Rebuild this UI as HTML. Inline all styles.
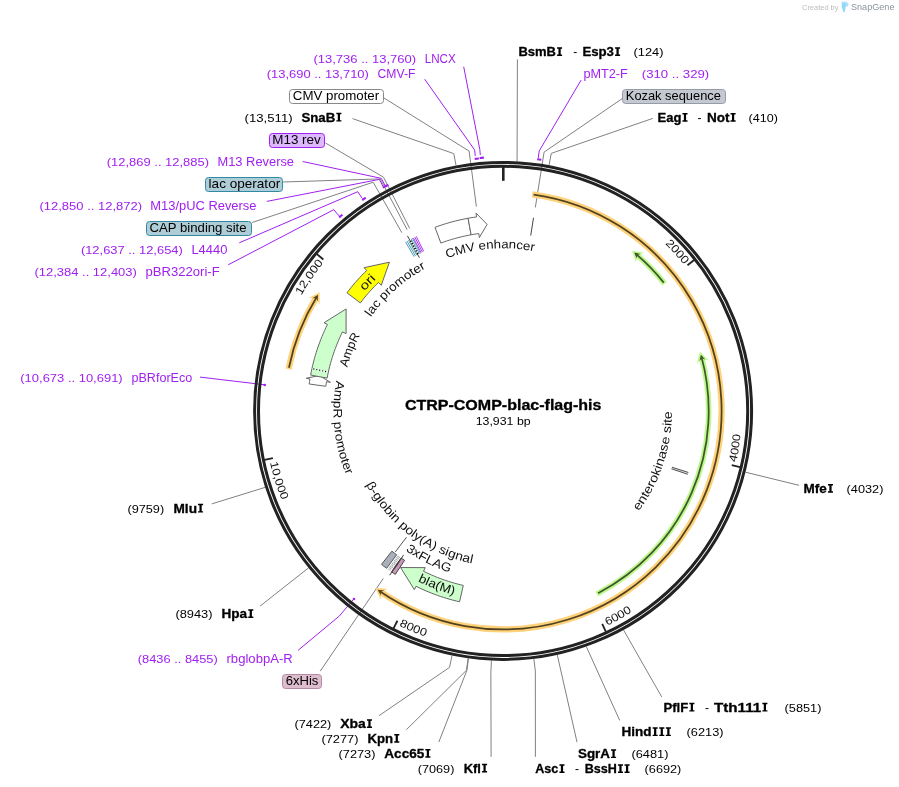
<!DOCTYPE html>
<html><head><meta charset="utf-8"><title>CTRP-COMP-blac-flag-his</title>
<style>html,body{margin:0;padding:0;background:#fff;}body{width:899px;height:787px;overflow:hidden;font-family:"Liberation Sans", sans-serif;}svg{display:block;will-change:transform;}text{white-space:pre;}</style>
</head><body>
<svg width="899" height="787" viewBox="0 0 899 787" font-family='"Liberation Sans", sans-serif'>
<polyline points="517.07,161.29 517.4,59.4" fill="none" stroke="#808080" stroke-width="1"/>
<polyline points="549.07,165.16 551.27,153.37 652.8,118.4" fill="none" stroke="#808080" stroke-width="1"/>
<polyline points="745.47,472.2 799,485.3" fill="none" stroke="#808080" stroke-width="1"/>
<polyline points="623.54,629.98 661.7,696.9" fill="none" stroke="#808080" stroke-width="1"/>
<polyline points="586.33,646.64 619.7,720.4" fill="none" stroke="#808080" stroke-width="1"/>
<polyline points="557.3,654.95 577,742.1" fill="none" stroke="#808080" stroke-width="1"/>
<polyline points="533.86,659 535.34,670.91 535.4,756.8" fill="none" stroke="#808080" stroke-width="1"/>
<polyline points="491.43,660.63 490.87,672.61 491.1,756.8" fill="none" stroke="#808080" stroke-width="1"/>
<polyline points="468.54,658.5 466.88,670.38 438.8,742.1" fill="none" stroke="#808080" stroke-width="1"/>
<polyline points="468.09,658.44 466.41,670.32 406.4,729.7" fill="none" stroke="#808080" stroke-width="1"/>
<polyline points="451.99,655.62 449.54,667.37 379,715.7" fill="none" stroke="#808080" stroke-width="1"/>
<polyline points="308.53,567.88 260.1,606.1" fill="none" stroke="#808080" stroke-width="1"/>
<polyline points="265.08,487.37 211.8,503.9" fill="none" stroke="#808080" stroke-width="1"/>
<polyline points="456.03,165.37 453.77,153.59 352.5,118.6" fill="none" stroke="#808080" stroke-width="1"/>
<polyline points="535.33,207.44 544.09,152.13 622.5,98.4" fill="none" stroke="#808080" stroke-width="1"/>
<polyline points="476.39,206.64 469.13,151.11 384,98" fill="none" stroke="#808080" stroke-width="1"/>
<polyline points="409.71,228.41 383.52,177.22 325.5,143" fill="none" stroke="#808080" stroke-width="1"/>
<polyline points="407.17,229.73 380.27,178.91 283.2,182" fill="none" stroke="#808080" stroke-width="1"/>
<polyline points="401.84,232.65 373.19,182.22 252.2,222.5" fill="none" stroke="#808080" stroke-width="1"/>
<polyline points="383.3,578.4 320.2,671.2" fill="none" stroke="#808080" stroke-width="1"/>
<polyline points="395.29,551.91 406.53,537.21" fill="none" stroke="#555" stroke-width="1"/>
<path d="M537.18,159.2A254,254 0 0 1 541.34,159.79" fill="none" stroke="#a020f0" stroke-width="2.1"/>
<polyline points="538.22,158.13 539.23,150.9 581.1,80.1" fill="none" stroke="#a020f0" stroke-width="1"/>
<path d="M474.71,158.89A253.6,253.6 0 0 1 478.89,158.46" fill="none" stroke="#a020f0" stroke-width="2.1"/>
<polyline points="475.27,155.91 474.62,149.95 424.7,79.2" fill="none" stroke="#a020f0" stroke-width="1"/>
<path d="M479.69,157.98A254,254 0 0 1 483.87,157.63" fill="none" stroke="#a020f0" stroke-width="2.1"/>
<polyline points="480.31,155.01 479.81,149.43 463.7,66.7" fill="none" stroke="#a020f0" stroke-width="1"/>
<path d="M384.65,186.66A253.6,253.6 0 0 1 388.38,184.73" fill="none" stroke="#a020f0" stroke-width="2.1"/>
<polyline points="384.88,185.19 381.31,178.36 302.7,161.5" fill="none" stroke="#a020f0" stroke-width="1"/>
<path d="M382.74,187.68A253.6,253.6 0 0 1 386.53,185.68" fill="none" stroke="#a020f0" stroke-width="2.1"/>
<polyline points="382.95,186.21 379.32,179.42 266.8,201.4" fill="none" stroke="#a020f0" stroke-width="1"/>
<path d="M362.25,200.01A253.6,253.6 0 0 1 365.76,197.71" fill="none" stroke="#a020f0" stroke-width="2.1"/>
<polyline points="362.32,198.52 357.79,191.69 239.3,242.8" fill="none" stroke="#a020f0" stroke-width="1"/>
<path d="M339.15,217.42A253.6,253.6 0 0 1 342.38,214.73" fill="none" stroke="#a020f0" stroke-width="2.1"/>
<polyline points="339.06,215.93 333.78,209.66 228.2,264.8" fill="none" stroke="#a020f0" stroke-width="1"/>
<circle cx="264.7" cy="385" r="1.3" fill="#a020f0"/>
<polyline points="264.73,384.79 200,377.1" fill="none" stroke="#a020f0" stroke-width="1"/>
<circle cx="354.02" cy="598.99" r="1.3" fill="#a020f0"/>
<polyline points="353.86,598.86 339.33,616.05 298.1,650.3" fill="none" stroke="#a020f0" stroke-width="1"/>
<circle cx="503.1" cy="410.9" r="248.5" fill="none" stroke="#222" stroke-width="3.0"/>
<circle cx="503.1" cy="410.9" r="244.6" fill="none" stroke="#222" stroke-width="3.0"/>
<line x1="503.3" y1="167" x2="503.3" y2="180.8" stroke="#222" stroke-width="2.6"/>
<line x1="694.15" y1="259.93" x2="687.48" y2="265.2" stroke="#222" stroke-width="1.8"/>
<path id="tk2000" d="M664.86,243.76A232.6,232.6 0 0 1 684.08,264.78" fill="none"/>
<text font-size="11.2" fill="#111"><textPath href="#tk2000" textLength="28.5" lengthAdjust="spacingAndGlyphs">2000</textPath></text>
<line x1="740" y1="467.19" x2="731.73" y2="465.23" stroke="#222" stroke-width="1.8"/>
<path id="tk4000" d="M736.17,462.43A238.7,238.7 0 0 0 740.65,434.3" fill="none"/>
<text font-size="11.2" fill="#111"><textPath href="#tk4000" textLength="28.5" lengthAdjust="spacingAndGlyphs">4000</textPath></text>
<line x1="605.82" y1="631.68" x2="602.23" y2="623.97" stroke="#222" stroke-width="1.8"/>
<path id="tk6000" d="M607.18,625.72A238.7,238.7 0 0 0 632.02,611.79" fill="none"/>
<text font-size="11.2" fill="#111"><textPath href="#tk6000" textLength="28.5" lengthAdjust="spacingAndGlyphs">6000</textPath></text>
<line x1="393.56" y1="628.37" x2="397.39" y2="620.78" stroke="#222" stroke-width="1.8"/>
<path id="tk8000" d="M399.09,625.75A238.7,238.7 0 0 0 425.42,636.61" fill="none"/>
<text font-size="11.2" fill="#111"><textPath href="#tk8000" textLength="28.5" lengthAdjust="spacingAndGlyphs">8000</textPath></text>
<line x1="264.56" y1="459.79" x2="272.89" y2="458.09" stroke="#222" stroke-width="1.8"/>
<path id="tk10000" d="M270.04,462.5A238.7,238.7 0 0 0 281.73,500.18" fill="none"/>
<text font-size="11.2" fill="#111"><textPath href="#tk10000" textLength="39.5" lengthAdjust="spacingAndGlyphs">10,000</textPath></text>
<line x1="316.84" y1="254.06" x2="323.34" y2="259.53" stroke="#222" stroke-width="1.8"/>
<path id="tk12000" d="M301.2,295.41A232.6,232.6 0 0 1 323.62,262.95" fill="none"/>
<text font-size="11.2" fill="#111"><textPath href="#tk12000" textLength="39.5" lengthAdjust="spacingAndGlyphs">12,000</textPath></text>
<path d="M532.19,194.34A218.5,218.5 0 1 1 379.58,591.14" fill="none" stroke="#fdd27a" stroke-width="6.2"/>
<path d="M375.29,588.12 L380.57,599.25 L381.32,592.32 L387.33,588.86 Z" fill="#fdd27a"/>
<path d="M533.67,194.55A218.5,218.5 0 1 1 379.38,591" fill="none" stroke="#54421f" stroke-width="1.75"/>
<path d="M377.73,589.86 L380.83,595.59 L380.82,591.98 L384.14,590.59 Z" fill="#54421f"/>
<path d="M288.61,369.21A218.5,218.5 0 0 1 316.84,296.66" fill="none" stroke="#fdd27a" stroke-width="6.2"/>
<path d="M319.64,292.22 L308.79,298.05 L315.76,298.45 L319.52,304.28 Z" fill="#fdd27a"/>
<path d="M288.91,367.74A218.5,218.5 0 0 1 316.98,296.45" fill="none" stroke="#54421f" stroke-width="1.75"/>
<path d="M318.03,294.75 L312.46,298.13 L316.06,297.94 L317.62,301.18 Z" fill="#54421f"/>
<path d="M664.67,283.76A205.6,205.6 0 0 0 635.98,254.01" fill="none" stroke="#bdf98c" stroke-width="5.6"/>
<path d="M631.93,250.67 L644.07,252.83 L637.57,255.38 L635.81,262.08 Z" fill="#bdf98c"/>
<path d="M663.74,282.58A205.6,205.6 0 0 0 635.79,253.85" fill="none" stroke="#42562e" stroke-width="1.75"/>
<path d="M634.25,252.56 L640.61,254.04 L637.12,254.98 L636.65,258.55 Z" fill="#42562e"/>
<path d="M596.76,593.93A205.6,205.6 0 0 0 701.47,356.87" fill="none" stroke="#bdf98c" stroke-width="5.6"/>
<path d="M700.03,351.82 L708.81,360.47 L702.01,358.89 L696.77,363.42 Z" fill="#bdf98c"/>
<path d="M598.09,593.24A205.6,205.6 0 0 0 701.41,356.62" fill="none" stroke="#42562e" stroke-width="1.75"/>
<path d="M700.87,354.7 L705.27,359.51 L701.86,358.31 L699.46,360.99 Z" fill="#42562e"/>
<path d="M435.01,227.32 L437.95,226.26 L440.9,225.24 L443.87,224.27 L446.85,223.35 L449.85,222.48 L452.86,221.66 L455.88,220.88 L458.92,220.15 L461.97,219.47 L465.02,218.84 L468.09,218.26 L471.09,234.78 L468.29,235.32 L465.49,235.89 L462.71,236.52 L459.93,237.18 L457.17,237.89 L454.42,238.65 L451.68,239.45 L448.95,240.29 L446.24,241.17 L443.54,242.1 L440.85,243.07 Z" fill="#fff" stroke="#666" stroke-width="1" stroke-linejoin="miter" />
<path d="M468.09,218.26 L470.9,217.77 L473.71,217.32 L476.53,216.91 L476.01,213.15 L487.11,224.38 L479.35,237.52 L478.81,233.56 L476.23,233.93 L473.66,234.34 L471.09,234.78 Z" fill="#fff" stroke="#666" stroke-width="1" stroke-linejoin="miter" />
<path d="M346.93,292.79 L348.96,290.16 L351.03,287.56 L353.15,285 L355.3,282.47 L357.5,279.98 L359.75,277.53 L362.03,275.12 L364.35,272.74 L366.72,270.41 L364.07,267.68 L389.4,262.19 L381.21,285.33 L378.42,282.46 L376.26,284.6 L374.13,286.77 L372.05,288.97 L370,291.22 L367.98,293.49 L366.01,295.8 L364.08,298.14 L362.19,300.52 L360.33,302.93 Z" fill="#ffff00" stroke="#666" stroke-width="1" stroke-linejoin="miter" />
<path d="M309.16,383.99 L309.53,381.45 L309.93,378.92 L306.18,378.3 L319.28,375.5 L330.45,382.32 L326.5,381.66 L326.14,383.98 L325.8,386.3 Z" fill="#fff" stroke="#666" stroke-width="1" stroke-linejoin="miter" />
<path d="M310.61,375.05 L311.25,371.77 L311.95,368.5 L312.7,365.24 L313.5,362 L314.37,358.77 L315.28,355.56 L316.26,352.36 L317.28,349.18 L318.36,346.01 L319.5,342.87 L320.69,339.75 L321.93,336.64 L323.22,333.56 L324.57,330.5 L325.97,327.46 L327.42,324.45 L324.01,322.78 L346.1,308.94 L346.08,333.64 L342.49,331.87 L341.17,334.62 L339.89,337.4 L338.66,340.2 L337.47,343.01 L336.34,345.85 L335.25,348.71 L334.21,351.58 L333.23,354.47 L332.29,357.38 L331.4,360.3 L330.56,363.24 L329.77,366.2 L329.03,369.16 L328.35,372.14 L327.71,375.13 L327.13,378.13 Z" fill="#ccffcc" stroke="#666" stroke-width="1" stroke-linejoin="miter" />
<line x1="327.56" y1="371.98" x2="312.72" y2="368.69" stroke="#fff" stroke-width="1.1"/>
<line x1="327.56" y1="371.98" x2="312.72" y2="368.69" stroke="#000" stroke-width="1.2" stroke-dasharray="1.1,1.9" stroke-dashoffset="-1.5"/>
<path d="M459.55,601.8 L456.34,601.03 L453.13,600.22 L449.94,599.35 L446.76,598.42 L443.61,597.44 L440.46,596.41 L437.34,595.33 L434.23,594.19 L431.15,593 L428.08,591.76 L425.04,590.47 L422.01,589.12 L419.02,587.73 L416.04,586.28 L414.35,589.68 L400.6,567.54 L425.29,567.65 L423.51,571.23 L426.23,572.55 L428.97,573.83 L431.73,575.06 L434.52,576.24 L437.32,577.38 L440.14,578.46 L442.98,579.5 L445.84,580.49 L448.71,581.44 L451.6,582.33 L454.5,583.18 L457.42,583.97 L460.35,584.72 L463.29,585.42 Z" fill="#ccffcc" stroke="#666" stroke-width="1" stroke-linejoin="miter" />
<path d="M386.63,568.3 L384.04,566.34 L381.48,564.35 L391.91,551.18 L394.26,553.01 L396.63,554.79 Z" fill="#a9b0bb" stroke="#555" stroke-width="1" stroke-linejoin="miter" />
<line x1="399.66" y1="556.99" x2="389.96" y2="570.7" stroke="#6a6a6a" stroke-width="0.85" stroke-dasharray="0.9,0.9"/>
<line x1="398.85" y1="556.41" x2="389.06" y2="570.07" stroke="#6a6a6a" stroke-width="0.85" stroke-dasharray="0.9,0.9"/>
<line x1="398.04" y1="555.82" x2="388.18" y2="569.43" stroke="#6a6a6a" stroke-width="0.85" stroke-dasharray="0.9,0.9"/>
<path d="M395.32,574.36 L393.47,573.13 L391.64,571.88 L401.2,558.06 L402.88,559.21 L404.56,560.34 Z" fill="#cc99bb" stroke="#444" stroke-width="1" stroke-linejoin="miter" />
<path d="M403.68,554.91 L397.2,565.27 L389.7,575.16 L396.13,564.53 Z" fill="#444" stroke="#444" stroke-width="0.6"/>
<line x1="671.98" y1="467.14" x2="688.39" y2="472.61" stroke="#555" stroke-width="1.05"/>
<line x1="671.45" y1="468.7" x2="687.82" y2="474.32" stroke="#555" stroke-width="1.05"/>
<line x1="530.71" y1="235.56" x2="533.51" y2="217.78" stroke="#444" stroke-width="1"/>
<line x1="414.1" y1="256.75" x2="405.5" y2="241.85" stroke="#3b94ad" stroke-width="0.9"/>
<line x1="415.45" y1="255.98" x2="406.98" y2="241.01" stroke="#3b94ad" stroke-width="0.9"/>
<line x1="416.8" y1="255.22" x2="408.47" y2="240.17" stroke="#3b94ad" stroke-width="0.9"/>
<line x1="419.26" y1="253.88" x2="411.16" y2="238.71" stroke="#3b94ad" stroke-width="0.85"/>
<line x1="420.36" y1="253.3" x2="412.36" y2="238.07" stroke="#3b94ad" stroke-width="0.85"/>
<line x1="419.43" y1="257.76" x2="407.45" y2="235.83" stroke="#444" stroke-width="1"/>
<line x1="417.69" y1="253.59" x2="410.53" y2="240.41" stroke="#fff" stroke-width="1.5"/>
<line x1="417.93" y1="254.03" x2="410.29" y2="239.97" stroke="#111" stroke-width="1.9" stroke-dasharray="1.3,1.5"/>
<line x1="421.09" y1="252.69" x2="413.41" y2="237.86" stroke="#a020f0" stroke-width="0.9"/>
<line x1="422.39" y1="252.02" x2="414.83" y2="237.13" stroke="#a020f0" stroke-width="0.9"/>
<line x1="423.7" y1="251.37" x2="416.26" y2="236.42" stroke="#a020f0" stroke-width="0.9"/>
<path id="c1" d="M446.95,258.3A162.6,162.6 0 0 1 534.13,251.29" fill="none"/>
<text font-size="12.3" fill="#111"><textPath href="#c1" textLength="88.54" lengthAdjust="spacingAndGlyphs">CMV enhancer</textPath></text>
<path id="c2" d="M370.72,317.17A162.2,162.2 0 0 1 425.95,268.22" fill="none"/>
<text font-size="12.3" fill="#111"><textPath href="#c2" textLength="74.45" lengthAdjust="spacingAndGlyphs">lac promoter</textPath></text>
<path id="c3" d="M364.57,291.32A183,183 0 0 1 376.21,279.04" fill="none"/>
<text font-size="12.3" fill="#111"><textPath href="#c3" textLength="16.93" lengthAdjust="spacingAndGlyphs">ori</textPath></text>
<path id="c4" d="M347.26,367.39A161.8,161.8 0 0 1 360.11,335.19" fill="none"/>
<text font-size="12.3" fill="#111"><textPath href="#c4" textLength="34.73" lengthAdjust="spacingAndGlyphs">AmpR</textPath></text>
<path id="c5" d="M336.23,380.58A169.6,169.6 0 0 0 346.07,474.98" fill="none"/>
<text font-size="12.3" fill="#111"><textPath href="#c5" textLength="96.2" lengthAdjust="spacingAndGlyphs">AmpR promoter</textPath></text>
<path id="c6" d="M365.97,484.43A155.6,155.6 0 0 0 472.08,563.38" fill="none"/>
<text font-size="12.3" fill="#111"><textPath href="#c6" textLength="136.6" lengthAdjust="spacingAndGlyphs">β-globin poly(A) signal</textPath></text>
<path id="c7" d="M405.42,550.4A170.3,170.3 0 0 0 449.63,572.59" fill="none"/>
<text font-size="12.3" fill="#111"><textPath href="#c7" textLength="49.64" lengthAdjust="spacingAndGlyphs">3xFLAG</textPath></text>
<path id="c8" d="M417.8,581.24A190.5,190.5 0 0 0 453.79,594.91" fill="none"/>
<text font-size="12.3" fill="#111"><textPath href="#c8" textLength="38.57" lengthAdjust="spacingAndGlyphs">bla(M)</textPath></text>
<path id="c9" d="M638.79,511.31A168.8,168.8 0 0 0 671.9,411.49" fill="none"/>
<text font-size="12.3" fill="#111"><textPath href="#c9" textLength="106.94" lengthAdjust="spacingAndGlyphs">enterokinase site</textPath></text>
<text x="313.4" y="62.7" font-size="11.2" fill="#a020f0" textLength="102.8" lengthAdjust="spacingAndGlyphs">(13,736 .. 13,760)</text>
<text x="424.7" y="62.7" font-size="12.1" fill="#a020f0" textLength="31" lengthAdjust="spacingAndGlyphs">LNCX</text>
<text x="266.7" y="78" font-size="11.2" fill="#a020f0" textLength="102.2" lengthAdjust="spacingAndGlyphs">(13,690 .. 13,710)</text>
<text x="377.5" y="78" font-size="12.1" fill="#a020f0" textLength="37.9" lengthAdjust="spacingAndGlyphs">CMV-F</text>
<rect x="289.5" y="89.5" width="94" height="14" rx="3" ry="3" fill="#fff" stroke="#888" stroke-width="1"/>
<text x="292.8" y="100" font-size="11.9" fill="#000" textLength="86.4" lengthAdjust="spacingAndGlyphs">CMV promoter</text>
<text x="244.5" y="121.6" font-size="11.2" fill="#000" textLength="48.1" lengthAdjust="spacingAndGlyphs">(13,511)</text>
<path d="M336.35,112.85 h5.05 v1.45 h-1.42 v5.85 h1.42 v1.45 h-5.05 v-1.45 h1.42 v-5.85 h-1.42 Z" fill="#000"/>
<text x="301.4" y="121.6" font-size="12.1" font-weight="bold" stroke="#000" stroke-width="0.3" stroke-linejoin="round" fill="#000" textLength="33.85" lengthAdjust="spacingAndGlyphs">SnaB</text>
<rect x="269.5" y="133.5" width="55" height="14" rx="3" ry="3" fill="#deb8ff" stroke="#a020f0" stroke-width="1"/>
<text x="272.2" y="144" font-size="11.9" fill="#000" textLength="48.6" lengthAdjust="spacingAndGlyphs">M13 rev</text>
<text x="106.8" y="166" font-size="11.2" fill="#a020f0" textLength="102.2" lengthAdjust="spacingAndGlyphs">(12,869 .. 12,885)</text>
<text x="217.5" y="166" font-size="12.1" fill="#a020f0" textLength="76.5" lengthAdjust="spacingAndGlyphs">M13 Reverse</text>
<rect x="205.5" y="177.5" width="77" height="14" rx="3" ry="3" fill="#afcdd6" stroke="#3189a3" stroke-width="1"/>
<text x="208.6" y="188" font-size="11.9" fill="#000" textLength="71.6" lengthAdjust="spacingAndGlyphs">lac operator</text>
<text x="39.5" y="210" font-size="11.2" fill="#a020f0" textLength="102.5" lengthAdjust="spacingAndGlyphs">(12,850 .. 12,872)</text>
<text x="150.3" y="210" font-size="12.1" fill="#a020f0" textLength="106.2" lengthAdjust="spacingAndGlyphs">M13/pUC Reverse</text>
<rect x="146.5" y="221.5" width="105" height="14" rx="3" ry="3" fill="#afcdd6" stroke="#3189a3" stroke-width="1"/>
<text x="149.5" y="232" font-size="11.9" fill="#000" textLength="97.1" lengthAdjust="spacingAndGlyphs">CAP binding site</text>
<text x="80.9" y="254" font-size="11.2" fill="#a020f0" textLength="101.9" lengthAdjust="spacingAndGlyphs">(12,637 .. 12,654)</text>
<text x="191.4" y="254" font-size="12.1" fill="#a020f0" textLength="36" lengthAdjust="spacingAndGlyphs">L4440</text>
<text x="34.4" y="276" font-size="11.2" fill="#a020f0" textLength="102.5" lengthAdjust="spacingAndGlyphs">(12,384 .. 12,403)</text>
<text x="145.5" y="276" font-size="12.1" fill="#a020f0" textLength="74.2" lengthAdjust="spacingAndGlyphs">pBR322ori-F</text>
<text x="20.3" y="382.4" font-size="11.2" fill="#a020f0" textLength="102.4" lengthAdjust="spacingAndGlyphs">(10,673 .. 10,691)</text>
<text x="131.5" y="382.4" font-size="12.1" fill="#a020f0" textLength="60.7" lengthAdjust="spacingAndGlyphs">pBRforEco</text>
<text x="127.4" y="512.6" font-size="11.2" fill="#000" textLength="36.8" lengthAdjust="spacingAndGlyphs">(9759)</text>
<path d="M198.05,503.85 h5.05 v1.45 h-1.42 v5.85 h1.42 v1.45 h-5.05 v-1.45 h1.42 v-5.85 h-1.42 Z" fill="#000"/>
<text x="173.5" y="512.6" font-size="12.1" font-weight="bold" stroke="#000" stroke-width="0.3" stroke-linejoin="round" fill="#000" textLength="23.45" lengthAdjust="spacingAndGlyphs">Mlu</text>
<text x="175.4" y="618" font-size="11.2" fill="#000" textLength="37.1" lengthAdjust="spacingAndGlyphs">(8943)</text>
<path d="M248.25,609.25 h5.05 v1.45 h-1.42 v5.85 h1.42 v1.45 h-5.05 v-1.45 h1.42 v-5.85 h-1.42 Z" fill="#000"/>
<text x="221.5" y="618" font-size="12.1" font-weight="bold" stroke="#000" stroke-width="0.3" stroke-linejoin="round" fill="#000" textLength="25.65" lengthAdjust="spacingAndGlyphs">Hpa</text>
<text x="137.8" y="662.8" font-size="11.2" fill="#a020f0" textLength="80" lengthAdjust="spacingAndGlyphs">(8436 .. 8455)</text>
<text x="226.5" y="662.8" font-size="12.1" fill="#a020f0" textLength="66.3" lengthAdjust="spacingAndGlyphs">rbglobpA-R</text>
<rect x="282.5" y="674.5" width="39" height="14" rx="3" ry="3" fill="#dcbccd" stroke="#b58aa3" stroke-width="1"/>
<text x="285.7" y="685" font-size="11.9" fill="#000" textLength="32.7" lengthAdjust="spacingAndGlyphs">6xHis</text>
<text x="294.5" y="728" font-size="11.2" fill="#000" textLength="36.8" lengthAdjust="spacingAndGlyphs">(7422)</text>
<path d="M366.95,719.25 h5.05 v1.45 h-1.42 v5.85 h1.42 v1.45 h-5.05 v-1.45 h1.42 v-5.85 h-1.42 Z" fill="#000"/>
<text x="340.2" y="728" font-size="12.1" font-weight="bold" stroke="#000" stroke-width="0.3" stroke-linejoin="round" fill="#000" textLength="25.65" lengthAdjust="spacingAndGlyphs">Xba</text>
<text x="321.4" y="742.8" font-size="11.2" fill="#000" textLength="37.1" lengthAdjust="spacingAndGlyphs">(7277)</text>
<path d="M394.25,734.05 h5.05 v1.45 h-1.42 v5.85 h1.42 v1.45 h-5.05 v-1.45 h1.42 v-5.85 h-1.42 Z" fill="#000"/>
<text x="367.5" y="742.8" font-size="12.1" font-weight="bold" stroke="#000" stroke-width="0.3" stroke-linejoin="round" fill="#000" textLength="25.65" lengthAdjust="spacingAndGlyphs">Kpn</text>
<text x="338.5" y="757.7" font-size="11.2" fill="#000" textLength="37" lengthAdjust="spacingAndGlyphs">(7273)</text>
<path d="M425.35,748.95 h5.05 v1.45 h-1.42 v5.85 h1.42 v1.45 h-5.05 v-1.45 h1.42 v-5.85 h-1.42 Z" fill="#000"/>
<text x="384.3" y="757.7" font-size="12.1" font-weight="bold" stroke="#000" stroke-width="0.3" stroke-linejoin="round" fill="#000" textLength="39.95" lengthAdjust="spacingAndGlyphs">Acc65</text>
<text x="417.7" y="772.5" font-size="11.2" fill="#000" textLength="36.7" lengthAdjust="spacingAndGlyphs">(7069)</text>
<path d="M482.05,763.75 h5.05 v1.45 h-1.42 v5.85 h1.42 v1.45 h-5.05 v-1.45 h1.42 v-5.85 h-1.42 Z" fill="#000"/>
<text x="463.7" y="772.5" font-size="12.1" font-weight="bold" stroke="#000" stroke-width="0.3" stroke-linejoin="round" fill="#000" textLength="17.25" lengthAdjust="spacingAndGlyphs">Kfl</text>
<path d="M559.45,764.25 h5.05 v1.45 h-1.42 v5.85 h1.42 v1.45 h-5.05 v-1.45 h1.42 v-5.85 h-1.42 Z" fill="#000"/>
<text x="535.3" y="773" font-size="12.1" font-weight="bold" stroke="#000" stroke-width="0.3" stroke-linejoin="round" fill="#000" textLength="23.05" lengthAdjust="spacingAndGlyphs">Asc</text>
<text x="575" y="773" font-size="12.1" fill="#000" textLength="4" lengthAdjust="spacingAndGlyphs">-</text>
<path d="M617.95,764.25 h5.05 v1.45 h-1.42 v5.85 h1.42 v1.45 h-5.05 v-1.45 h1.42 v-5.85 h-1.42 Z" fill="#000"/>
<path d="M624.55,764.25 h5.05 v1.45 h-1.42 v5.85 h1.42 v1.45 h-5.05 v-1.45 h1.42 v-5.85 h-1.42 Z" fill="#000"/>
<text x="584.8" y="773" font-size="12.1" font-weight="bold" stroke="#000" stroke-width="0.3" stroke-linejoin="round" fill="#000" textLength="32.05" lengthAdjust="spacingAndGlyphs">BssH</text>
<text x="644.6" y="773" font-size="11.2" fill="#000" textLength="36.7" lengthAdjust="spacingAndGlyphs">(6692)</text>
<path d="M611.05,749.35 h5.05 v1.45 h-1.42 v5.85 h1.42 v1.45 h-5.05 v-1.45 h1.42 v-5.85 h-1.42 Z" fill="#000"/>
<text x="578" y="758.1" font-size="12.1" font-weight="bold" stroke="#000" stroke-width="0.3" stroke-linejoin="round" fill="#000" textLength="31.95" lengthAdjust="spacingAndGlyphs">SgrA</text>
<text x="631.4" y="758.1" font-size="11.2" fill="#000" textLength="37.1" lengthAdjust="spacingAndGlyphs">(6481)</text>
<path d="M652.65,727.35 h5.05 v1.45 h-1.42 v5.85 h1.42 v1.45 h-5.05 v-1.45 h1.42 v-5.85 h-1.42 Z" fill="#000"/>
<path d="M659.25,727.35 h5.05 v1.45 h-1.42 v5.85 h1.42 v1.45 h-5.05 v-1.45 h1.42 v-5.85 h-1.42 Z" fill="#000"/>
<path d="M665.85,727.35 h5.05 v1.45 h-1.42 v5.85 h1.42 v1.45 h-5.05 v-1.45 h1.42 v-5.85 h-1.42 Z" fill="#000"/>
<text x="621.5" y="736.1" font-size="12.1" font-weight="bold" stroke="#000" stroke-width="0.3" stroke-linejoin="round" fill="#000" textLength="30.05" lengthAdjust="spacingAndGlyphs">Hind</text>
<text x="686.6" y="736.1" font-size="11.2" fill="#000" textLength="37" lengthAdjust="spacingAndGlyphs">(6213)</text>
<path d="M689.35,702.85 h5.05 v1.45 h-1.42 v5.85 h1.42 v1.45 h-5.05 v-1.45 h1.42 v-5.85 h-1.42 Z" fill="#000"/>
<text x="663.5" y="711.6" font-size="12.1" font-weight="bold" stroke="#000" stroke-width="0.3" stroke-linejoin="round" fill="#000" textLength="24.75" lengthAdjust="spacingAndGlyphs">PflF</text>
<text x="705" y="711.6" font-size="12.1" fill="#000" textLength="4" lengthAdjust="spacingAndGlyphs">-</text>
<path d="M762.35,702.85 h5.05 v1.45 h-1.42 v5.85 h1.42 v1.45 h-5.05 v-1.45 h1.42 v-5.85 h-1.42 Z" fill="#000"/>
<text x="714" y="711.6" font-size="12.1" font-weight="bold" stroke="#000" stroke-width="0.3" stroke-linejoin="round" fill="#000" textLength="47.25" lengthAdjust="spacingAndGlyphs">Tth111</text>
<text x="784.5" y="711.6" font-size="11.2" fill="#000" textLength="37" lengthAdjust="spacingAndGlyphs">(5851)</text>
<path d="M827.95,484.05 h5.05 v1.45 h-1.42 v5.85 h1.42 v1.45 h-5.05 v-1.45 h1.42 v-5.85 h-1.42 Z" fill="#000"/>
<text x="803.6" y="492.8" font-size="12.1" font-weight="bold" stroke="#000" stroke-width="0.3" stroke-linejoin="round" fill="#000" textLength="23.25" lengthAdjust="spacingAndGlyphs">Mfe</text>
<text x="846.6" y="492.8" font-size="11.2" fill="#000" textLength="36.8" lengthAdjust="spacingAndGlyphs">(4032)</text>
<path d="M682.45,113.05 h5.05 v1.45 h-1.42 v5.85 h1.42 v1.45 h-5.05 v-1.45 h1.42 v-5.85 h-1.42 Z" fill="#000"/>
<text x="657.5" y="121.8" font-size="12.1" font-weight="bold" stroke="#000" stroke-width="0.3" stroke-linejoin="round" fill="#000" textLength="23.85" lengthAdjust="spacingAndGlyphs">Eag</text>
<text x="697.6" y="121.8" font-size="12.1" fill="#000" textLength="4" lengthAdjust="spacingAndGlyphs">-</text>
<path d="M730.55,113.05 h5.05 v1.45 h-1.42 v5.85 h1.42 v1.45 h-5.05 v-1.45 h1.42 v-5.85 h-1.42 Z" fill="#000"/>
<text x="706.9" y="121.8" font-size="12.1" font-weight="bold" stroke="#000" stroke-width="0.3" stroke-linejoin="round" fill="#000" textLength="22.55" lengthAdjust="spacingAndGlyphs">Not</text>
<text x="748.6" y="121.8" font-size="11.2" fill="#000" textLength="29.3" lengthAdjust="spacingAndGlyphs">(410)</text>
<rect x="622.5" y="89.5" width="103" height="14" rx="3" ry="3" fill="#c4c8d0" stroke="#979ba5" stroke-width="1"/>
<text x="625.8" y="99.6" font-size="11.9" fill="#000" textLength="95.1" lengthAdjust="spacingAndGlyphs">Kozak sequence</text>
<text x="583.4" y="78.3" font-size="12.1" fill="#a020f0" textLength="44.4" lengthAdjust="spacingAndGlyphs">pMT2-F</text>
<text x="641.8" y="78.3" font-size="11.2" fill="#a020f0" textLength="67.4" lengthAdjust="spacingAndGlyphs">(310 .. 329)</text>
<path d="M557.05,47.25 h5.05 v1.45 h-1.42 v5.85 h1.42 v1.45 h-5.05 v-1.45 h1.42 v-5.85 h-1.42 Z" fill="#000"/>
<text x="518.4" y="56" font-size="12.1" font-weight="bold" stroke="#000" stroke-width="0.3" stroke-linejoin="round" fill="#000" textLength="37.55" lengthAdjust="spacingAndGlyphs">BsmB</text>
<text x="573.2" y="56" font-size="12.1" fill="#000" textLength="4" lengthAdjust="spacingAndGlyphs">-</text>
<path d="M615.05,47.25 h5.05 v1.45 h-1.42 v5.85 h1.42 v1.45 h-5.05 v-1.45 h1.42 v-5.85 h-1.42 Z" fill="#000"/>
<text x="582.4" y="56" font-size="12.1" font-weight="bold" stroke="#000" stroke-width="0.3" stroke-linejoin="round" fill="#000" textLength="31.55" lengthAdjust="spacingAndGlyphs">Esp3</text>
<text x="633.5" y="56" font-size="11.2" fill="#000" textLength="30" lengthAdjust="spacingAndGlyphs">(124)</text>
<text x="404.9" y="410.4" font-size="14.2" font-weight="bold" stroke="#000" stroke-width="0.3" stroke-linejoin="round" fill="#000" textLength="196.6" lengthAdjust="spacingAndGlyphs">CTRP-COMP-blac-flag-his</text>
<text x="475.7" y="425.2" font-size="11" fill="#000" textLength="55" lengthAdjust="spacingAndGlyphs">13,931 bp</text>
<text x="802" y="10.3" font-size="7.6" fill="#bcbcbc" textLength="36.5" lengthAdjust="spacingAndGlyphs">Created by</text>
<path d="M840.9,1.3 H846.6 V2.6 H840.9 Z" fill="#d3eefd"/>
<path d="M845.6,2.1 L847.5,2.5 Q848.7,3.1 848.5,4.6 L847.9,6.3 L845.6,6.7 Z" fill="#ace0fc"/>
<path d="M841.8,2.5 L845.8,2.5 L845.8,6.6 L844.8,11.6 Q844,13.2 843.2,11.6 L841.8,7 Z" fill="#8fd7fc"/>
<text x="851" y="10.4" font-size="9" fill="#8d939c" textLength="43.5" lengthAdjust="spacingAndGlyphs">SnapGene</text>
</svg>
</body></html>
